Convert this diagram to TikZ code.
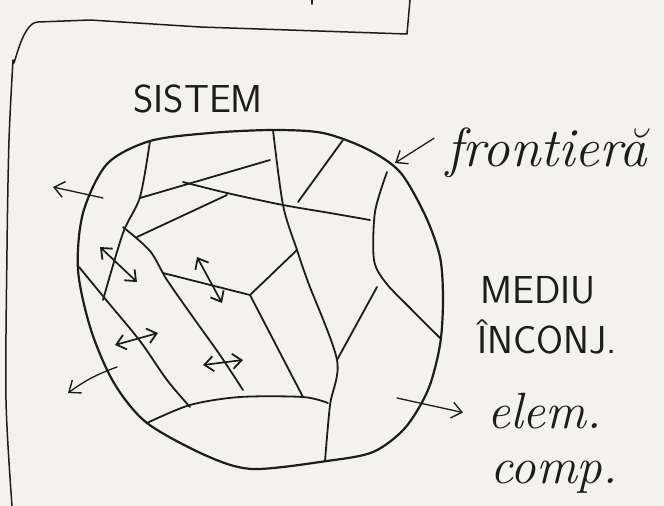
\documentclass[tikz,border=0pt]{standalone}
\usepackage{xcolor}
\usepackage{tikz}
\usetikzlibrary{arrows.meta}
\definecolor{PAPER}{HTML}{F3F2EE}
\definecolor{INK}{HTML}{1C1C1C}

\begin{document}
\begin{tikzpicture}[
    x=1pt, y=-1pt,
    line cap=round, line join=round,
    rim/.style={draw=INK, line width=2.2pt},
    wall/.style={draw=INK, line width=1.8pt},
    frame/.style={draw=INK, line width=1.5pt},
    arr/.style={-{Straight Barb[length=10pt,width=16pt,line width=1.4pt]}, INK, line width=1.3pt},
    dbl/.style={{Straight Barb[length=9pt,width=15pt,line width=1.8pt]}-{Straight Barb[length=9pt,width=15pt,line width=1.8pt]}, INK, line width=1.7pt},
    caps/.style={font=\fontsize{39}{41}\selectfont\sffamily, text=INK, inner sep=0pt, anchor=base west},
    hand/.style={font=\fontsize{51}{53}\selectfont\itshape, text=INK, inner sep=0pt, anchor=base west},
  ]

  \fill[PAPER] (0,0) rectangle (664,506);
  \useasboundingbox (0,0) rectangle (664,506);

  % ===== page frame =====
  \draw[frame] plot[smooth] coordinates {(12,506) (6,400) (7,250) (9,140) (13,60)}
    to[out=-90,in=180] (38,22) -- (90,20) -- (200,27) -- (407,34) -- (410,0);
  \draw[frame] (312,0) -- (312,4);

  % ===== system and its boundary =====
  \draw[rim] plot[smooth cycle] coordinates {
    (78,270) (83,213) (107,164) (150,141) (210,133) (273,130) (323,133)
    (367,149) (400,172) (425,215) (440,257) (443,300) (440,345) (428,390)
    (405,428) (373,452) (327,461) (253,469) (207,456) (147,423) (114,383) (91,330)};

  % inner walls
  \draw[wall] plot[smooth] coordinates {(150,141) (140,197) (123,233) (103,300)};
  \draw[wall] plot[smooth] coordinates {(79,267) (107,301) (140,341) (167,380) (190,407)};
  \draw[wall] plot[smooth] coordinates {(123,227) (150,251) (167,280) (195,320) (220,355) (243,390)};
  \draw[wall] (140,198) -- (270,160);
  \draw[wall] plot[smooth] coordinates {(183,182) (227,193) (283,205) (330,213) (370,220)};
  \draw[wall] (137,237) -- (227,195);
  \draw[wall] plot[smooth] coordinates {(273,130) (283,205) (297,250) (308,282) (337,360) (330,405) (325,461)};
  \draw[wall] (343,140) -- (298,202);
  \draw[wall] plot[smooth] coordinates {(387,172) (375,212) (374,260) (386,283) (410,308) (440,338)};
  \draw[wall] (163,273) -- (250,295) -- (297,250);
  \draw[wall] (250,295) -- (263,320) -- (303,397);
  \draw[wall] (377,287) -- (337,360);
  \draw[wall] plot[smooth] coordinates {(147,423) (190,405) (240,397) (303,397) (328,403)};

  % exchanges inside and across the boundary
  \draw[dbl] (100,247) -- (137,282);
  \draw[dbl] (197,257) -- (222,303);
  \draw[dbl] (115,345) -- (158,333);
  \draw[dbl] (203,365) -- (243,360);
  \draw[arr] (103,198) -- (53,187);
  \draw[arr] (117,367) to[bend right=8] (68,393);

  % ===== labels =====
  \node[caps] (sistem) at (133,112) {SISTEM};
  \node[hand, font=\fontsize{55}{57}\selectfont\itshape] (frontiera) at (446,166) {frontieră};
  \node[caps] (mediu) at (480,303) {MEDIU};
  \node[caps] (inconj) at (477,353) {ÎNCONJ.};
  \node[hand] (elem) at (487,428) {elem.};
  \node[hand] (comp) at (490,483) {comp.};

  \coordinate (fhead) at (395,163);
  \coordinate (etail) at (397,398);
  \draw[arr] ([xshift=-12pt,yshift=14pt]frontiera.west) -- (fhead);
  \draw[arr] (etail) -- ([xshift=-24pt,yshift=-2pt]elem.west);

\end{tikzpicture}
\end{document}
